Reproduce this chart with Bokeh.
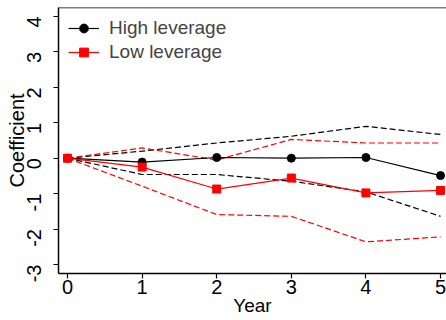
import math
from bokeh.plotting import figure
from bokeh.models import Range1d, FixedTicker, Span, Legend, LegendItem
from bokeh.embed import file_html
from bokeh.resources import INLINE

years = [0, 1, 2, 3, 4, 5]
high_coef = [0.0, -0.11, 0.02, 0.0, 0.02, -0.49]
high_upper = [0.0, 0.20, 0.43, 0.62, 0.90, 0.67]
high_lower = [0.0, -0.46, -0.46, -0.65, -0.95, -1.64]
low_coef = [0.0, -0.25, -0.87, -0.56, -0.98, -0.91]
low_upper = [0.0, 0.29, -0.05, 0.53, 0.43, 0.43]
low_lower = [0.0, -0.79, -1.59, -1.64, -2.36, -2.22]
x_ticks = [0, 1, 2, 3, 4, 5]
y_ticks = [-3, -2, -1, 0, 1, 2, 3, 4]
y_tick_labels = ["-3", "-2", "-1", "0", "1", "2", "3", "4"]

FONT = "Liberation Sans"
RED = "#FF0000"
X0, X1 = -0.121, 5.080
Y0, Y1 = -3.254, 4.254

p = figure(width=446, height=320, output_backend="svg", toolbar_location=None,
           x_range=Range1d(X0, X1), y_range=Range1d(Y0, Y1),
           min_border_left=58, min_border_top=7, min_border_right=0, min_border_bottom=47)
p.outline_line_color = None
p.xgrid.visible = False
p.ygrid.visible = False
p.background_fill_color = "white"
p.border_fill_color = "white"

for ax in (p.xaxis[0], p.yaxis[0]):
    ax.axis_line_color = "black"
    ax.axis_line_width = 1.5
    ax.major_tick_line_color = "black"
    ax.major_tick_line_width = 1.2
    ax.major_tick_in = 0
    ax.major_tick_out = 5
    ax.minor_tick_line_color = None
    ax.major_label_text_font = FONT
    ax.major_label_text_font_size = "20px"
    ax.major_label_text_color = "black"
    ax.axis_label_text_font = FONT
    ax.axis_label_text_font_style = "normal"
    ax.axis_label_text_color = "black"

p.xaxis.ticker = FixedTicker(ticks=x_ticks)
p.yaxis.ticker = FixedTicker(ticks=y_ticks)
p.yaxis.major_label_overrides = {t: s for t, s in zip(y_ticks, y_tick_labels)}
p.yaxis.major_label_orientation = math.pi / 2
p.xaxis.axis_label = "Year"
p.yaxis.axis_label = "Coefficient"
p.xaxis.axis_label_text_font_size = "19px"
p.yaxis.axis_label_text_font_size = "20px"
p.xaxis.major_label_standoff = 1
p.xaxis.axis_label_standoff = -2
p.yaxis.major_label_standoff = 19
p.yaxis.axis_label_standoff = -10

top = Span(location=Y1, dimension="width", line_color="black", line_width=1.5)
p.add_layout(top)

dash = "6 3"
p.line(years, high_upper, line_color="black", line_width=1.2, line_dash=dash)
p.line(years, high_lower, line_color="black", line_width=1.2, line_dash=dash)
p.line(years, low_upper, line_color=RED, line_width=1.2, line_dash=dash)
p.line(years, low_lower, line_color=RED, line_width=1.2, line_dash=dash)

hl = p.line(years, high_coef, line_color="black", line_width=1.2)
hs = p.scatter(years, high_coef, marker="circle", size=8, fill_color="black", line_color="black")
ll = p.line(years, low_coef, line_color=RED, line_width=1.2)
ls = p.scatter(years, low_coef, marker="square", size=8, fill_color=RED, line_color=RED)

legend = Legend(items=[LegendItem(label="High leverage", renderers=[hl, hs]),
                       LegendItem(label="Low leverage", renderers=[ll, ls])],
                location="top_left")
legend.margin = 10
legend.padding = 0
legend.glyph_width = 31
legend.glyph_height = 22
legend.label_height = 22
legend.spacing = 2
legend.label_standoff = 10
legend.label_text_font = FONT
legend.label_text_font_size = "19px"
legend.border_line_color = None
legend.background_fill_alpha = 0
p.add_layout(legend)

open("out.html", "w").write(file_html(p, INLINE))
